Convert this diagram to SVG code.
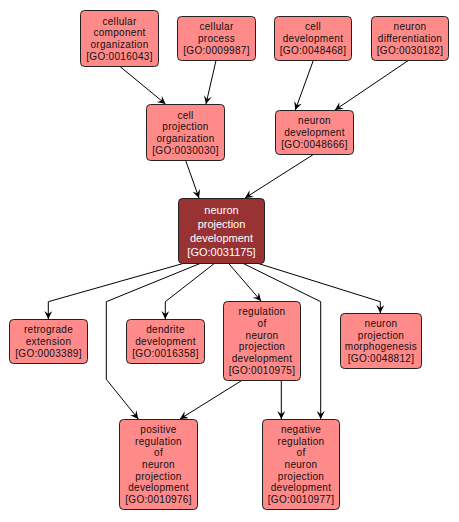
<svg xmlns="http://www.w3.org/2000/svg" width="459" height="522" viewBox="0 0 459 522">
<style>
.n rect{fill:#ff8a8a;stroke:#222;stroke-width:1}
.n text{font-family:"Liberation Sans",Arial,sans-serif;font-size:10px;letter-spacing:0.3px;fill:#111;text-anchor:middle}
.d rect{fill:#993333;stroke:#222;stroke-width:1}
.d text{font-family:"Liberation Sans",Arial,sans-serif;font-size:11px;fill:#fff;text-anchor:middle}
#edges path{fill:none;stroke:#000;stroke-width:1;marker-end:url(#ah)}
</style>
<defs>
<marker id="ah" markerWidth="10" markerHeight="10" refX="8" refY="4" orient="auto" markerUnits="userSpaceOnUse">
<path d="M0,0 L8,4 L0,8 L3,4 z" fill="#000"/>
</marker>
</defs>
<rect width="459" height="522" fill="#fff"/>
<g id="edges">
<path d="M120,66.5 L165.5,104"/>
<path d="M216,60.5 L206,104"/>
<path d="M313.3,60.5 L295.3,110"/>
<path d="M408.3,60.5 L335,110"/>
<path d="M185.7,160.5 L199,198"/>
<path d="M313.3,154.5 L245,198"/>
<path d="M183,263.5 L48.3,301.7 L48.3,319"/>
<path d="M200,263.5 L106.3,301.7 L106.3,379.3 L138.3,419"/>
<path d="M214.3,263.5 L165.3,301.7 L165.3,319"/>
<path d="M228.7,263.5 L261,301"/>
<path d="M243.3,263.5 L320.7,301.7 L320.7,419"/>
<path d="M258.3,263.5 L380.3,301.7 L380.3,313"/>
<path d="M241.7,380.5 L180,419"/>
<path d="M281.3,380.5 L281.3,419"/>
</g>
<g id="go0016043" class="n"><rect x="80.5" y="10.5" width="78" height="56" rx="4"/><text y="24.5"><tspan x="119.5">cellular</tspan><tspan x="119.5" dy="11.7">component</tspan><tspan x="119.5" dy="11.7">organization</tspan><tspan x="119.5" dy="11.7">[GO:0016043]</tspan></text></g>
<g id="go0009987" class="n"><rect x="177.5" y="16.5" width="78" height="44" rx="4"/><text y="30.3"><tspan x="216.5">cellular</tspan><tspan x="216.5" dy="11.7">process</tspan><tspan x="216.5" dy="11.7">[GO:0009987]</tspan></text></g>
<g id="go0048468" class="n"><rect x="274.5" y="16.5" width="77" height="44" rx="4"/><text y="30.3"><tspan x="313">cell</tspan><tspan x="313" dy="11.7">development</tspan><tspan x="313" dy="11.7">[GO:0048468]</tspan></text></g>
<g id="go0030182" class="n"><rect x="371.5" y="16.5" width="77" height="44" rx="4"/><text y="30.3"><tspan x="410">neuron</tspan><tspan x="410" dy="11.7">differentiation</tspan><tspan x="410" dy="11.7">[GO:0030182]</tspan></text></g>
<g id="go0030030" class="n"><rect x="146.5" y="104.5" width="78" height="56" rx="4"/><text y="118.5"><tspan x="185.5">cell</tspan><tspan x="185.5" dy="11.7">projection</tspan><tspan x="185.5" dy="11.7">organization</tspan><tspan x="185.5" dy="11.7">[GO:0030030]</tspan></text></g>
<g id="go0048666" class="n"><rect x="275.5" y="110.5" width="78" height="44" rx="4"/><text y="124.3"><tspan x="314.5">neuron</tspan><tspan x="314.5" dy="11.7">development</tspan><tspan x="314.5" dy="11.7">[GO:0048666]</tspan></text></g>
<g id="go0031175" class="d"><rect x="178.5" y="198.5" width="86" height="65" rx="4"/><text y="214.3"><tspan x="221.5">neuron</tspan><tspan x="221.5" dy="13.8">projection</tspan><tspan x="221.5" dy="13.8">development</tspan><tspan x="221.5" dy="13.8">[GO:0031175]</tspan></text></g>
<g id="go0003389" class="n"><rect x="9.5" y="319.5" width="78" height="44" rx="4"/><text y="333.3"><tspan x="48.5">retrograde</tspan><tspan x="48.5" dy="11.7">extension</tspan><tspan x="48.5" dy="11.7">[GO:0003389]</tspan></text></g>
<g id="go0016358" class="n"><rect x="126.5" y="319.5" width="78" height="44" rx="4"/><text y="333.3"><tspan x="165.5">dendrite</tspan><tspan x="165.5" dy="11.7">development</tspan><tspan x="165.5" dy="11.7">[GO:0016358]</tspan></text></g>
<g id="go0010975" class="n"><rect x="223.5" y="301.5" width="77" height="79" rx="4"/><text y="315.3"><tspan x="262">regulation</tspan><tspan x="262" dy="11.7">of</tspan><tspan x="262" dy="11.7">neuron</tspan><tspan x="262" dy="11.7">projection</tspan><tspan x="262" dy="11.7">development</tspan><tspan x="262" dy="11.7">[GO:0010975]</tspan></text></g>
<g id="go0048812" class="n"><rect x="340.5" y="313.5" width="81" height="55" rx="4"/><text y="327"><tspan x="381">neuron</tspan><tspan x="381" dy="11.7">projection</tspan><tspan x="381" dy="11.7">morphogenesis</tspan><tspan x="381" dy="11.7">[GO:0048812]</tspan></text></g>
<g id="go0010976" class="n"><rect x="119.5" y="419.5" width="78" height="90" rx="4"/><text y="432.9"><tspan x="158.5">positive</tspan><tspan x="158.5" dy="11.7">regulation</tspan><tspan x="158.5" dy="11.7">of</tspan><tspan x="158.5" dy="11.7">neuron</tspan><tspan x="158.5" dy="11.7">projection</tspan><tspan x="158.5" dy="11.7">development</tspan><tspan x="158.5" dy="11.7">[GO:0010976]</tspan></text></g>
<g id="go0010977" class="n"><rect x="262.5" y="419.5" width="77" height="90" rx="4"/><text y="432.9"><tspan x="301">negative</tspan><tspan x="301" dy="11.7">regulation</tspan><tspan x="301" dy="11.7">of</tspan><tspan x="301" dy="11.7">neuron</tspan><tspan x="301" dy="11.7">projection</tspan><tspan x="301" dy="11.7">development</tspan><tspan x="301" dy="11.7">[GO:0010977]</tspan></text></g>
</svg>
